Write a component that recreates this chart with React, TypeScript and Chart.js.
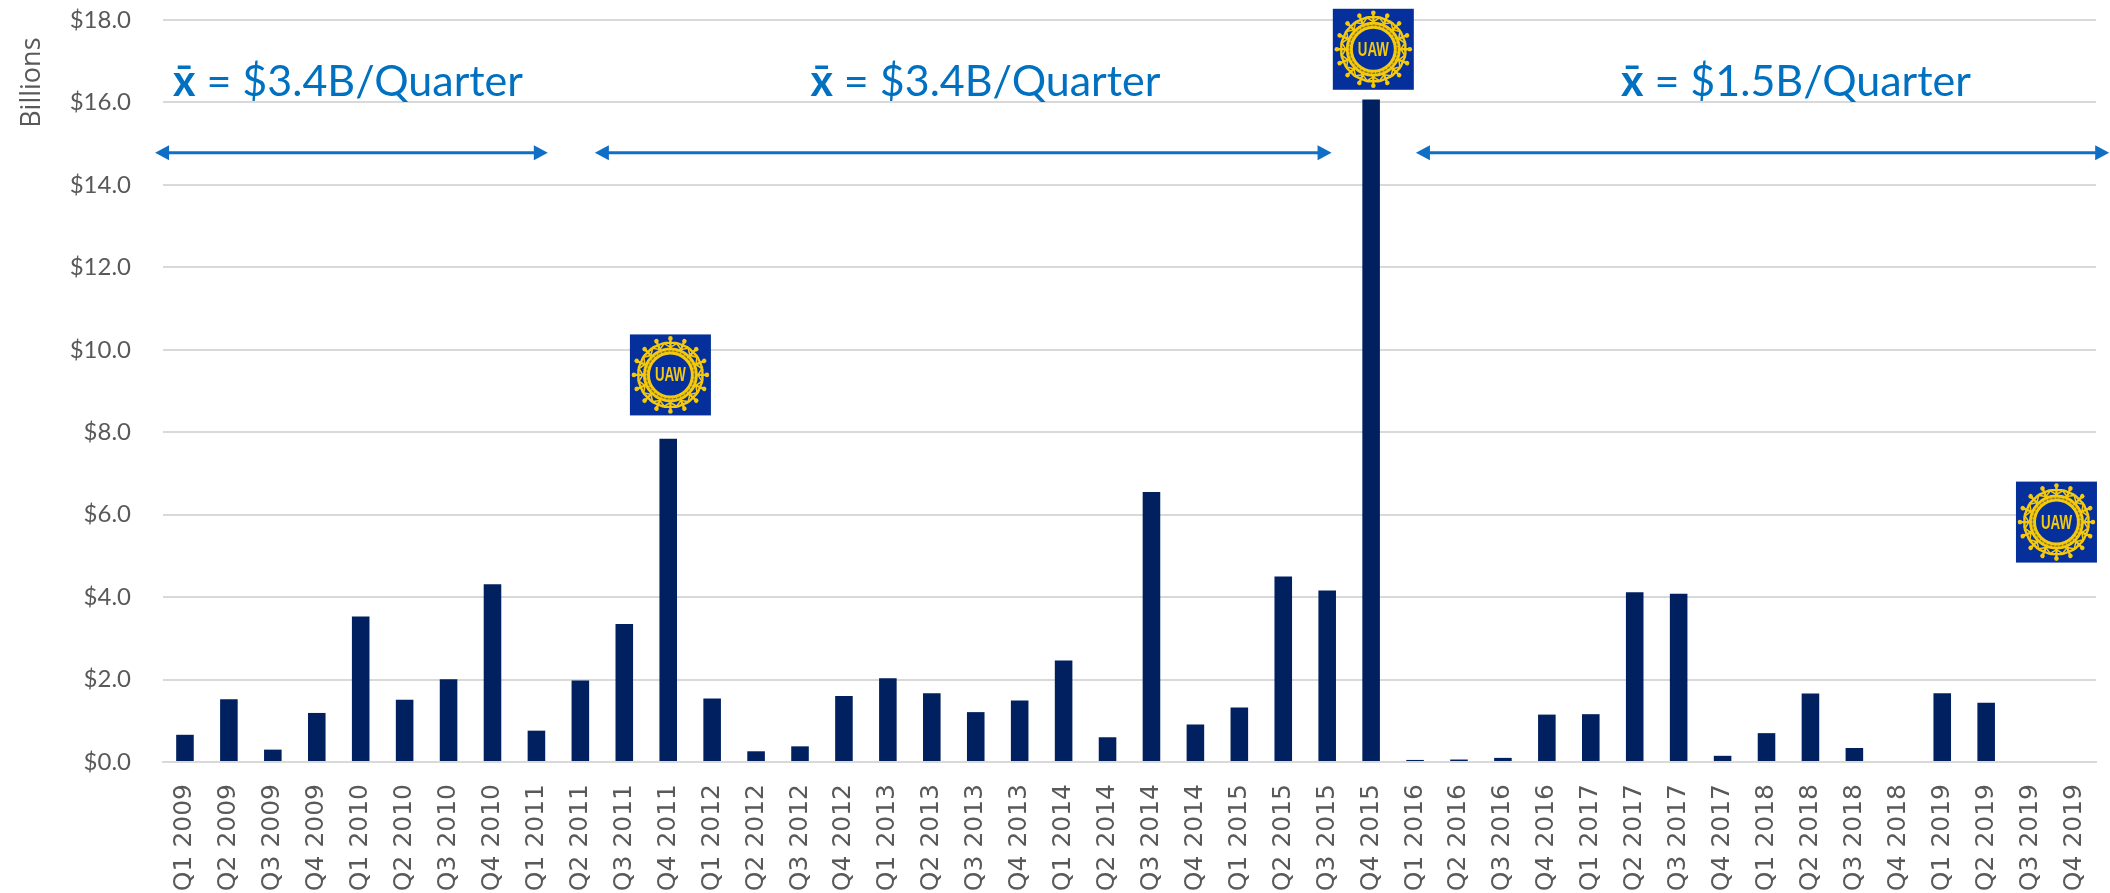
import React, { useEffect, useRef } from "react";
import { Chart, registerables } from "chart.js";

Chart.register(...registerables);

const years = ["2009","2010","2011","2012","2013","2014","2015","2016","2017","2018","2019"];
const quarters = ["Q1","Q2","Q3","Q4"];
const categories: string[] = years.flatMap((y) => quarters.map((q) => `${q} ${y}`));

const settlements: (number | null)[] = [
  0.66, 1.52, 0.30, 1.19,
  3.53, 1.51, 2.01, 4.31,
  0.76, 1.98, 3.35, 7.84,
  1.54, 0.26, 0.38, 1.60,
  2.03, 1.67, 1.21, 1.49,
  2.46, 0.60, 6.55, 0.91,
  1.32, 4.50, 4.16, 16.07,
  0.05, 0.06, 0.10, 1.15,
  1.16, 4.12, 4.08, 0.15,
  0.70, 1.66, 0.34, 0,
  1.67, 1.44, null, null,
];

const meanLabels = ["$3.4B/Quarter", "$3.4B/Quarter", "$1.5B/Quarter"];
const meanCenters = [3.71, 18.22, 36.67];
const meanValue = 16.5;
const arrowStarts = [-0.68, 9.33, 28.02];
const arrowEnds = [8.26, 26.1, 43.8];
const arrowValue = 14.78;
const logoIndexes = [11.05, 27.05, 42.6];
const logoValues = [9.39, 17.29, 5.82];
const axisTitleValue = 16.48;

const BLUE = "#0F6FC6";
const FONT_TEXT = "Lato, 'Open Sans', sans-serif";

function drawLogo(ctx: CanvasRenderingContext2D, cx: number, cy: number) {
  const s = 81;
  const yellow = "#F4C90E";
  const navy = "#05309B";
  ctx.save();
  ctx.fillStyle = navy;
  ctx.fillRect(cx - s / 2, cy - s / 2, s, s);
  ctx.translate(cx, cy);
  ctx.strokeStyle = yellow;
  ctx.fillStyle = yellow;
  ctx.lineCap = "round";
  // Gear band
  ctx.lineWidth = 7;
  ctx.beginPath();
  ctx.arc(0, 0, 24, 0, Math.PI * 2);
  ctx.stroke();
  ctx.strokeStyle = "#8A7A20";
  ctx.lineWidth = 1.4;
  ctx.setLineDash([2, 2]);
  ctx.beginPath();
  ctx.arc(0, 0, 24, 0, Math.PI * 2);
  ctx.stroke();
  ctx.setLineDash([]);
  ctx.strokeStyle = yellow;
  const n = 16;
  for (let i = 0; i < n; i++) {
    const a = (i / n) * Math.PI * 2;
    ctx.save();
    ctx.rotate(a);
    ctx.lineWidth = 2.4;
    ctx.beginPath();
    ctx.moveTo(0, -27);
    ctx.lineTo(0, -35);
    ctx.moveTo(-5.5, -32);
    ctx.lineTo(5.5, -32);
    ctx.stroke();
    ctx.beginPath();
    ctx.arc(0, -36.5, 2.3, 0, Math.PI * 2);
    ctx.fill();
    ctx.restore();
    ctx.save();
    ctx.rotate(a + Math.PI / n);
    ctx.lineWidth = 1.6;
    ctx.beginPath();
    ctx.moveTo(-5.5, -27);
    ctx.lineTo(0, -32);
    ctx.lineTo(5.5, -27);
    ctx.stroke();
    ctx.restore();
  }
  ctx.save();
  ctx.scale(0.7, 1.05);
  ctx.font = "bold 19px 'Liberation Sans', sans-serif";
  ctx.textAlign = "center";
  ctx.textBaseline = "middle";
  ctx.fillText("UAW", 0, 1);
  ctx.restore();
  ctx.restore();
}

function drawArrowHead(ctx: CanvasRenderingContext2D, x: number, y: number, dir: number) {
  ctx.beginPath();
  ctx.moveTo(x, y);
  ctx.lineTo(x - dir * 14, y - 7.5);
  ctx.lineTo(x - dir * 14, y + 7.5);
  ctx.closePath();
  ctx.fill();
}

const overlayPlugin = {
  id: "overlay",
  afterDatasetsDraw(chart: any) {
    const { ctx, scales } = chart;
    const xAt = (i: number) => scales.x.getPixelForValue(0) + i * (scales.x.getPixelForValue(1) - scales.x.getPixelForValue(0));
    const yAt = (v: number) => scales.y.getPixelForValue(v);
    ctx.save();
    logoIndexes.forEach((idx, i) => drawLogo(ctx, xAt(idx), yAt(logoValues[i])));
    ctx.strokeStyle = BLUE;
    ctx.fillStyle = BLUE;
    ctx.lineWidth = 3;
    arrowStarts.forEach((start, i) => {
      const a = xAt(start);
      const b = xAt(arrowEnds[i]);
      const y = yAt(arrowValue);
      ctx.beginPath();
      ctx.moveTo(a + 6, y);
      ctx.lineTo(b - 6, y);
      ctx.stroke();
      drawArrowHead(ctx, a, y, -1);
      drawArrowHead(ctx, b, y, 1);
    });
    ctx.textBaseline = "middle";
    ctx.fillStyle = "#0070C0";
    meanLabels.forEach((label, i) => {
      const cx = xAt(meanCenters[i]);
      const y = yAt(meanValue);
      const rest = ` = ${label}`;
      ctx.font = `43px ${FONT_TEXT}`;
      const rw = ctx.measureText(rest).width;
      ctx.font = `bold 43px ${FONT_TEXT}`;
      const xw = ctx.measureText("x\u0304").width;
      const left = cx - (rw + xw) / 2;
      ctx.textAlign = "left";
      ctx.fillText("x\u0304", left, y);
      ctx.font = `43px ${FONT_TEXT}`;
      ctx.fillText(rest, left + xw, y);
    });
    // Axis title
    ctx.save();
    ctx.translate(32, yAt(axisTitleValue));
    ctx.rotate(-Math.PI / 2);
    ctx.fillStyle = "#595959";
    ctx.font = "27px 'Open Sans', sans-serif";
    ctx.textAlign = "center";
    ctx.fillText("Billions", 0, 0);
    ctx.restore();
    ctx.restore();
  },
};

export default function App() {
  const ref = useRef<HTMLCanvasElement>(null);
  useEffect(() => {
    if (!ref.current) return;
    const chart = new Chart(ref.current, {
      type: "bar",
      data: {
        labels: categories,
        datasets: [
          {
            label: "Settlements",
            data: settlements,
            backgroundColor: "#002060",
            barPercentage: 0.4,
            categoryPercentage: 1,
          },
        ],
      },
      options: {
        responsive: false,
        animation: false,
        layout: { padding: { top: 20, right: 14, left: 0, bottom: 0 } },
        plugins: { legend: { display: false }, tooltip: { enabled: false }, title: { display: false } },
        scales: {
          x: {
            grid: { display: false },
            border: { color: "#D9D9D9", width: 2 },
            ticks: {
              autoSkip: false,
              maxRotation: 90,
              minRotation: 90,
              color: "#595959",
              padding: 14,
              font: { family: "'DejaVu Sans'", size: 25 },
            },
            afterFit(scale: any) {
              scale.height = 131;
              scale.paddingLeft = 0;
              scale.paddingRight = 0;
            },
          },
          y: {
            min: 0,
            max: 18,
            ticks: {
              stepSize: 2,
              color: "#595959",
              padding: 32,
              font: { family: FONT_TEXT, size: 24 },
              callback: (v: any) => `$${Number(v).toFixed(1)}`,
            },
            grid: { color: "#D9D9D9", lineWidth: 2, drawTicks: false },
            border: { display: false },
            afterFit(scale: any) {
              scale.width = 163;
              scale.paddingTop = 0;
              scale.paddingBottom = 0;
            },
          },
        },
      },
      plugins: [overlayPlugin],
    } as any);
    return () => chart.destroy();
  }, []);
  return (
    <div style={{ position: "fixed", left: 0, top: 0, width: 2110, height: 893, background: "#fff" }}>
      <canvas ref={ref} width={2110} height={893} style={{ display: "block" }} />
    </div>
  );
}
